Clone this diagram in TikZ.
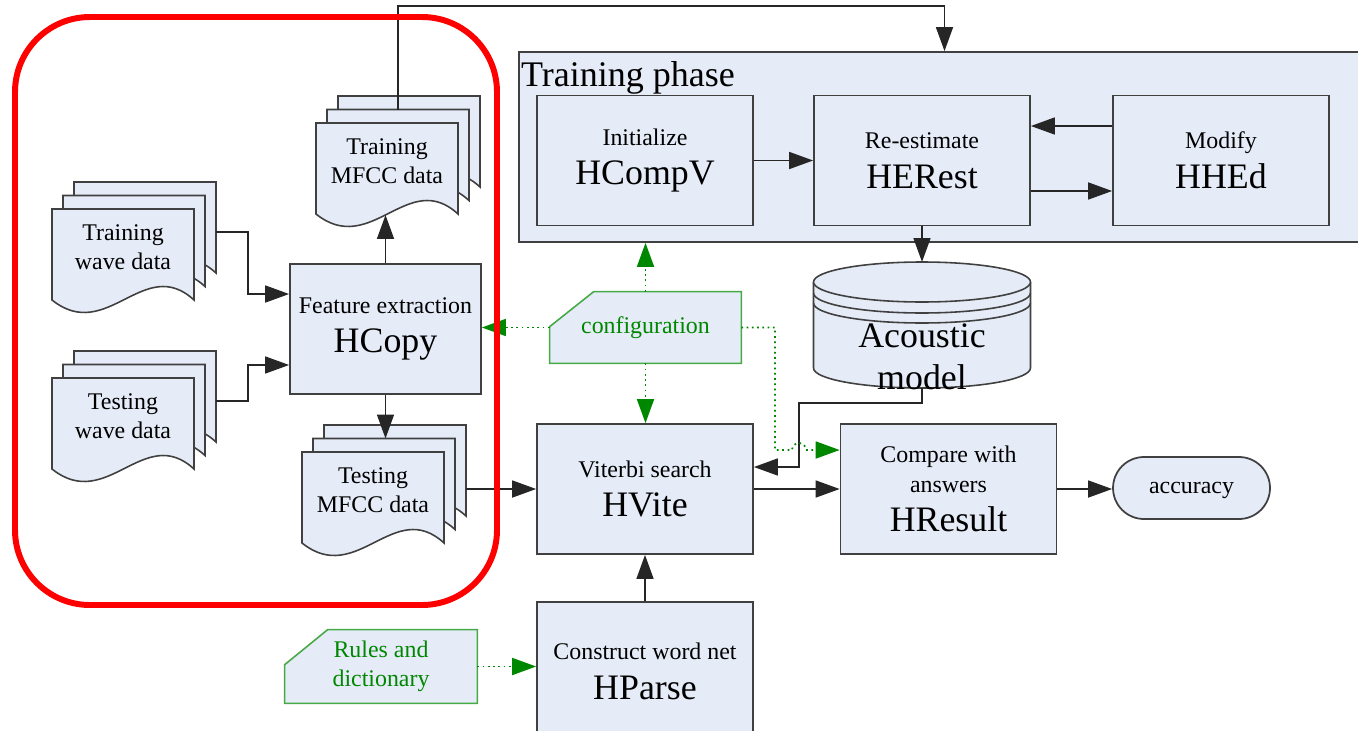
\documentclass[tikz,border=0pt]{standalone}
\usepackage{fontspec}
\setmainfont{Liberation Serif}
\usetikzlibrary{arrows.meta,backgrounds}
\definecolor{boxfill}{RGB}{229,235,247}
\definecolor{cfggreen}{RGB}{0,135,0}
\definecolor{cfgline}{RGB}{70,170,70}
\newcommand{\sm}{\fontsize{13.6}{16.5}\selectfont}
\newcommand{\bg}{\fontsize{20.4}{22.7}\selectfont}
\tikzset{arrow/.style={-{Triangle[length=0.48cm,width=0.34cm]}, line width=0.9pt, black!85}}
\tikzset{cfgarrow/.style={-{Triangle[length=0.48cm,width=0.34cm]}, dotted, line width=1pt, cfggreen}}
\tikzset{box/.style={draw=black!75, line width=1pt, fill=boxfill, minimum width=4.32cm, minimum height=2.6cm, align=center, font=\bg, inner sep=0pt}}
\tikzset{sheet/.style={draw=black!75, line width=0.9pt, fill=boxfill}}
\tikzset{doctext/.style={font=\sm, align=center, inner sep=0pt}}
\tikzset{cfgtext/.style={font=\sm, text=cfggreen, align=center, inner sep=0pt, minimum width=3.82cm, minimum height=1.42cm}}
\tikzset{cfgshape/.style={draw=cfgline, line width=0.9pt, fill=boxfill}}
\newcommand{\docstack}[4]{%
  \foreach \k in {2,1,0}{%
    \pgfmathsetmacro{\sx}{#2+11*\k}%
    \pgfmathsetmacro{\sy}{#3-13.5*\k}%
    \draw[sheet] (\sx,\sy) -- ({\sx+142},\sy) -- ({\sx+142},{\sy+91})
      .. controls ({\sx+92},{\sy+45}) and ({\sx+55},{\sy+135}) .. (\sx,{\sy+91}) -- cycle;
  }
  \node[doctext] (#1) at ({#2+71},{#3+38}) {#4};
  \coordinate (#1-top) at ({#2+82},{#3-13.5});
  \coordinate (#1-bot) at ({#2+71},{#3+92});
  \coordinate (#1-out) at ({#2+164},{#3+23});
}

\begin{document}
\begin{tikzpicture}[x=0.02cm, y=-0.02cm]
    \useasboundingbox (0,0) rectangle (1358,730);
    \clip (0,0) rectangle (1358,730);

    \node[box, minimum width=17.02cm, minimum height=3.8cm] (train) at (944.5,147) {};
    \node[anchor=north west, font=\fontsize{20.5}{23}\selectfont, inner xsep=1.5pt, inner ysep=5.5pt] (trainlabel) at (train.north west) {Training phase};
    \node[box] (hcompv) at (645,160.5) {{\sm Initialize}\\HCompV};
    \node[box] (herest) at (922,160.5) {{\sm Re-estimate}\\HERest};
    \node[box] (hhed) at (1221,160.5) {{\sm Modify}\\HHEd};

    \node[box, minimum width=3.82cm] (hcopy) at (385.5,329) {{\sm Feature extraction}\\HCopy};
    \node[box] (hvite) at (645,489) {{\sm Viterbi search}\\HVite};
    \node[box, minimum height=2.76cm] (hparse) at (645,671) {{\sm Construct word net}\\HParse};
    \node[box] (hresult) at (948.5,489) {{\sm Compare with}\\[-5.7pt]{\sm answers}\\HResult};
    \node[box, font=\sm, text depth=0pt, minimum width=3.14cm, minimum height=1.24cm, rounded corners=0.62cm] (accuracy) at (1191.5,488) {accuracy};

    \docstack{twave}{52}{209}{Training\\wave data}
    \docstack{tswave}{52}{378}{Testing\\wave data}
    \docstack{trmfcc}{316}{123}{Training\\MFCC data}
    \docstack{tmfcc}{302}{452}{Testing\\MFCC data}

    % acoustic model
    \coordinate (acoustic-top) at (922,262);
    \coordinate (acoustic-bot) at (922,388);
    \fill[boxfill] (813.5,282) rectangle (1030.5,368);
    \fill[boxfill] (922,368) ellipse [x radius=2.17cm, y radius=0.4cm];
    \draw[sheet, fill=none] (813.5,282) -- (813.5,368) arc[start angle=180, end angle=360, x radius=2.17cm, y radius=0.4cm] -- (1030.5,282);
    \draw[sheet] (922,282) ellipse [x radius=2.17cm, y radius=0.4cm];
    \draw[sheet, fill=none] (813.5,293) arc[start angle=180, end angle=360, x radius=2.17cm, y radius=0.4cm];
    \draw[sheet, fill=none] (813.5,303) arc[start angle=180, end angle=360, x radius=2.17cm, y radius=0.4cm];
    \node[font=\bg, align=center, inner sep=0pt] (acoustic) at (922,357) {Acoustic\\[1.5pt]model};

    \node[cfgtext] (config) at (645.5,327.5) {configuration};
    \node[cfgtext, minimum width=3.84cm, minimum height=1.46cm] (rules) at (381,666.5) {Rules and\\dictionary};
    \begin{scope}[on background layer]
      \draw[cfgshape] (config.south west) -- ([yshift=-0.7cm]config.north west) -- ([xshift=0.88cm]config.north west) -- (config.north east) -- (config.south east) -- cycle;
      \draw[cfgshape] (rules.south west) -- ([yshift=-0.7cm]rules.north west) -- ([xshift=0.86cm]rules.north west) -- (rules.north east) -- (rules.south east) -- cycle;
    \end{scope}

    \draw[arrow] (hcompv) -- (herest);
    \draw[arrow] ([yshift=0.69cm]hhed.west) -- ([yshift=0.69cm]herest.east);
    \draw[arrow] ([yshift=-0.61cm]herest.east) -- ([yshift=-0.61cm]hhed.west);
    \draw[arrow] (herest.south) -- (acoustic-top);
    \draw[arrow] (acoustic-bot) -- ++(0,15) -| (799,467) -- ([yshift=0.44cm]hvite.east);
    \draw[arrow] (twave-out) -- ++(32,0) |- ([yshift=0.7cm]hcopy.west);
    \draw[arrow] (tswave-out) -- ++(32,0) |- ([yshift=-0.72cm]hcopy.west);
    \draw[arrow] (hcopy.north) -- (hcopy.north |- trmfcc-bot);
    \draw[arrow] (hcopy.south) -- (hcopy.south |- tmfcc-top);
    \draw[arrow] (trmfcc-top) -- (trmfcc-top |- 0,6) -| (train.north);
    \draw[arrow] (tmfcc-out |- hvite.west) -- (hvite.west);
    \draw[arrow] (hparse) -- (hvite);
    \draw[arrow] (hvite) -- (hresult);
    \draw[arrow] (hresult.east) -- (hresult.east -| accuracy.west);

    \draw[cfgarrow] (config.west) -- (config.west -| hcopy.east);
    \draw[cfgarrow] (config.north) -- (config.north |- train.south);
    \draw[cfgarrow] (config.south) -- (config.south |- hvite.north);
    \draw[cfgarrow] (config.east) -- (775,327.5) -- (775,450) -- (792,450) arc[start angle=180, end angle=0, radius=0.14cm] -- ([yshift=0.78cm]hresult.west);
    \draw[cfgarrow] (rules.east) -- (rules.east -| hparse.west);

    \draw[red, line width=3.4pt, rounded corners=1.5cm] (15,17) rectangle (497,605);
\end{tikzpicture}
\end{document}
